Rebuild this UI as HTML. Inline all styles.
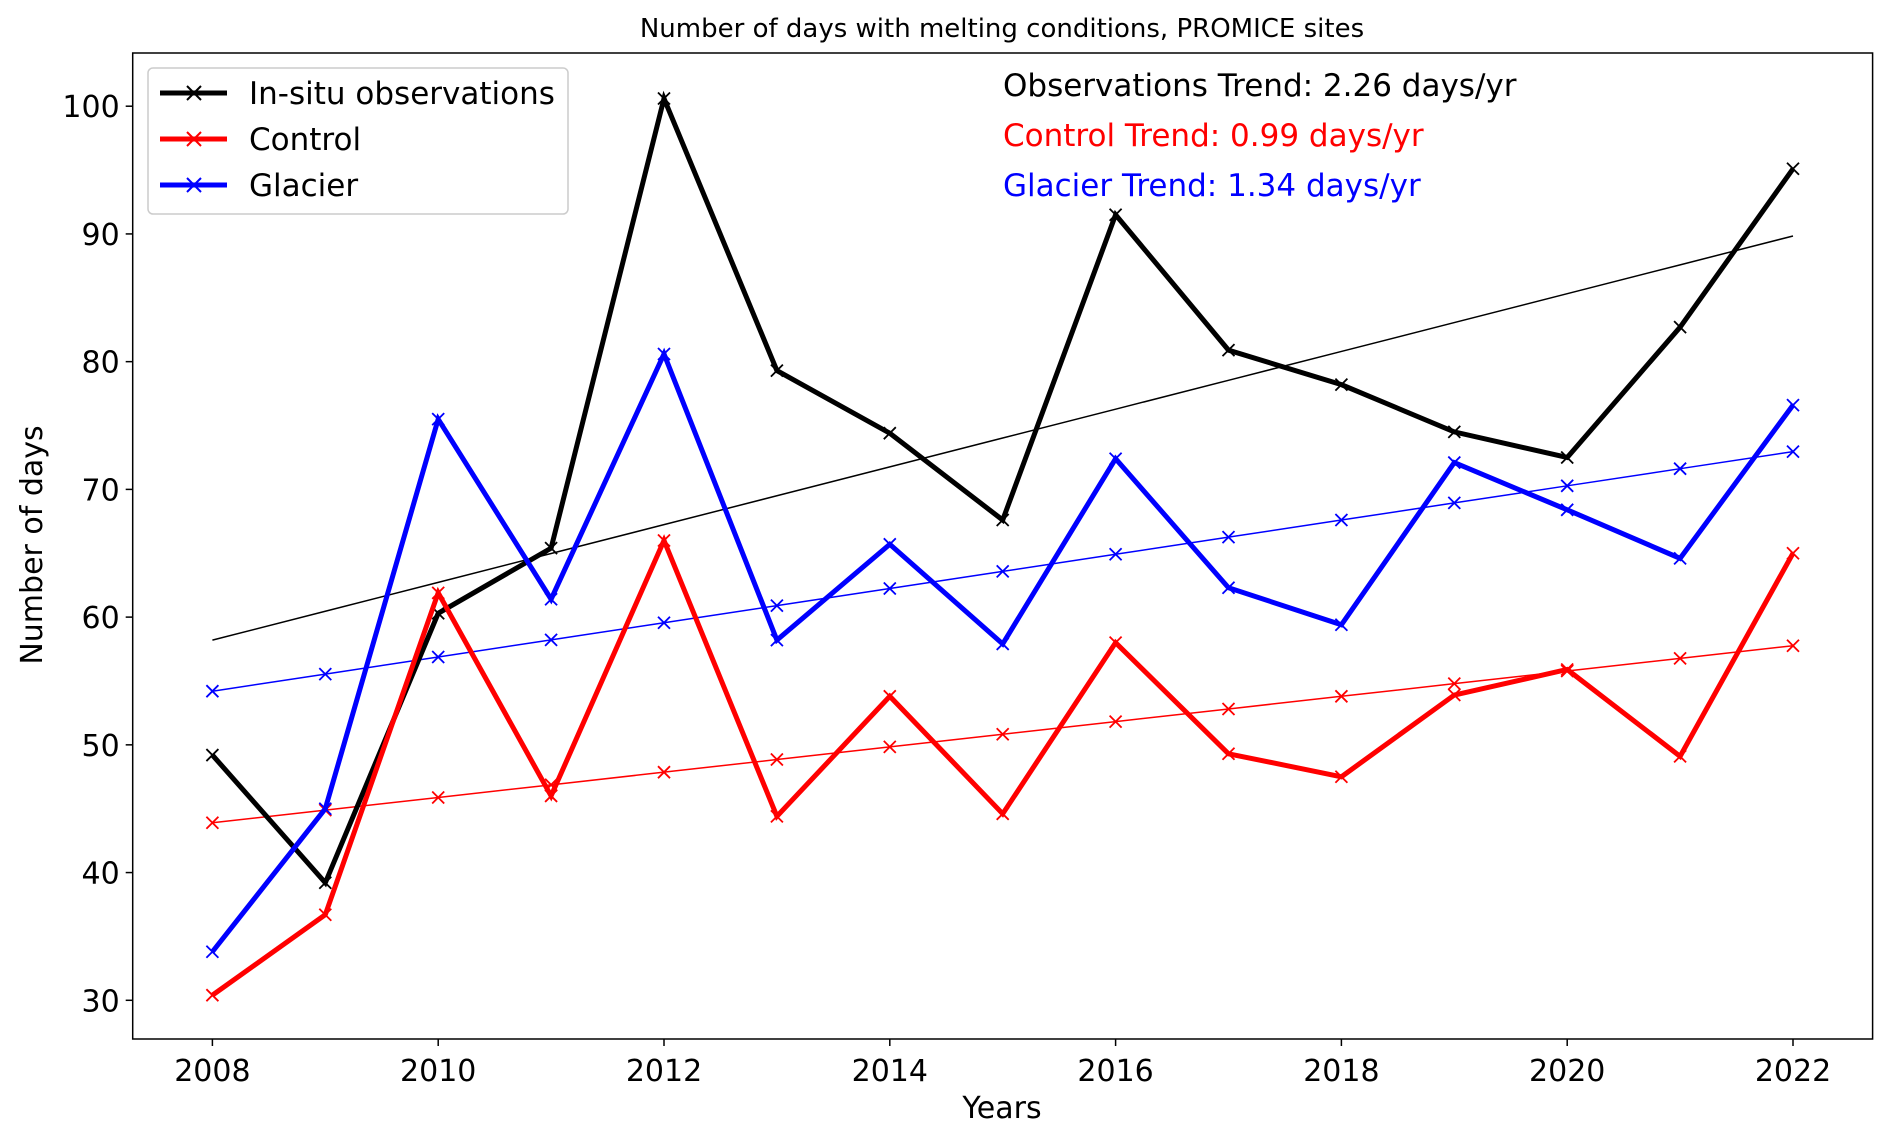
<!DOCTYPE html>
<html><head><meta charset="utf-8"><style>
html,body{margin:0;padding:0;background:#fff;}
svg text{font-family:"DejaVu Sans","Liberation Sans",sans-serif;}
</style></head><body>
<svg id="chart" width="1892" height="1138" xmlns="http://www.w3.org/2000/svg">
<rect x="0" y="0" width="1892" height="1138" fill="#fff"/>
<text x="1002" y="37" font-size="26" text-anchor="middle">Number of days with melting conditions, PROMICE sites</text>
<g id="plot"></g>
<text x="42" y="545" font-size="30" text-anchor="middle" transform="rotate(-90 42 545)">Number of days</text>
<text x="1002" y="1118" font-size="30" text-anchor="middle">Years</text>
<text x="1003" y="96" font-size="31" fill="#000">Observations Trend: 2.26 days/yr</text>
<text x="1003" y="146" font-size="31" fill="#ff0000">Control Trend: 0.99 days/yr</text>
<text x="1003" y="196" font-size="31" fill="#0000ff">Glacier Trend: 1.34 days/yr</text>
<g>
<rect x="148" y="68" width="420" height="146" rx="5" fill="#fff" stroke="#ccc" stroke-width="1.5"/>
<g>
<line x1="160" y1="93" x2="227" y2="93" stroke="#000" stroke-width="5"/>
<path d="M187 86 l14 14 M201 86 l-14 14" stroke="#000" stroke-width="2"/>
<text x="249" y="104" font-size="31">In-situ observations</text></g>
<g>
<line x1="160" y1="139" x2="227" y2="139" stroke="#f00" stroke-width="5"/>
<path d="M187 132 l14 14 M201 132 l-14 14" stroke="#f00" stroke-width="2"/>
<text x="249" y="150" font-size="31">Control</text></g>
<g>
<line x1="160" y1="185" x2="227" y2="185" stroke="#00f" stroke-width="5"/>
<path d="M187 178 l14 14 M201 178 l-14 14" stroke="#00f" stroke-width="2"/>
<text x="249" y="196" font-size="31">Glacier</text></g>
</g>
</svg>
<script>
const years = [2008,2009,2010,2011,2012,2013,2014,2015,2016,2017,2018,2019,2020,2021,2022];
const obsValues = [49.2,39.2,60.3,65.4,100.6,79.3,74.4,67.6,91.5,80.9,78.2,74.5,72.5,82.7,95.1];
const controlValues = [30.4,36.7,61.9,46.0,66.0,44.4,53.8,44.6,58.0,49.3,47.5,53.9,55.9,49.1,65.0];
const glacierValues = [33.8,45.0,75.5,61.4,80.6,58.2,65.7,57.9,72.4,62.3,59.4,72.1,68.4,64.6,76.6];
const obsTrend = [58.2, 2.26];
const controlTrend = [43.9, 0.99];
const glacierTrend = [54.2, 1.34];
const yTicks = [30,40,50,60,70,80,90,100];
const xTicks = [2008,2010,2012,2014,2016,2018,2020,2022];

const NS = "http://www.w3.org/2000/svg";
const plot = document.getElementById('plot');
const L=132.7,R=1872.6,T=53,B=1039;
function xs(y){return 212.4+(y-2008)*(1793-212.4)/14;}
function ys(v){return 1000.3-(v-30)*(1000.3-106.2)/70;}
function mk(tag,attrs,parent){const e=document.createElementNS(NS,tag);for(const k in attrs)e.setAttribute(k,attrs[k]);(parent||plot).appendChild(e);return e;}

yTicks.forEach(t=>{
  const g=mk('g',{});
  
  
  mk('line',{x1:L-7,x2:L,y1:ys(t),y2:ys(t),stroke:'#000','stroke-width':1.5},g);
  const tx=mk('text',{x:L-13,y:ys(t)+11,'font-size':30,'text-anchor':'end'},g);tx.textContent=t;
});
xTicks.forEach(t=>{
  const g=mk('g',{});
  
  
  mk('line',{x1:xs(t),x2:xs(t),y1:B,y2:B+7,stroke:'#000','stroke-width':1.5},g);
  const tx=mk('text',{x:xs(t),y:B+42,'font-size':30,'text-anchor':'middle'},g);tx.textContent=t;
});

function series(vals,color,w,name,markers){
  const g=mk('g',{});
  
  
  mk('polyline',{points:vals.map((v,i)=>xs(years[i])+','+ys(v)).join(' '),fill:'none',stroke:color,'stroke-width':w,'stroke-linejoin':'miter'},g);
  if(markers){vals.forEach((v,i)=>{const x=xs(years[i]),y=ys(v);
    const p=mk('path',{d:`M${x-6} ${y-6}L${x+6} ${y+6}M${x+6} ${y-6}L${x-6} ${y+6}`,stroke:color,'stroke-width':1.8},g);
    
    
  });}
}
function trendVals(tr){return years.map((y,i)=>tr[0]+tr[1]*i);}
series(trendVals(obsTrend),'#000',1.5,'observations-trend-line',false);
series(trendVals(controlTrend),'#f00',1.5,'control-trend-line',true);
series(trendVals(glacierTrend),'#00f',1.5,'glacier-trend-line',true);
series(obsValues,'#000',5,'observations-line',true);
series(controlValues,'#f00',5,'control-line',true);
series(glacierValues,'#00f',5,'glacier-line',true);

const frame=mk('rect',{x:L,y:T,width:R-L,height:B-T,fill:'none',stroke:'#000','stroke-width':1.5});


</script>
</body></html>
